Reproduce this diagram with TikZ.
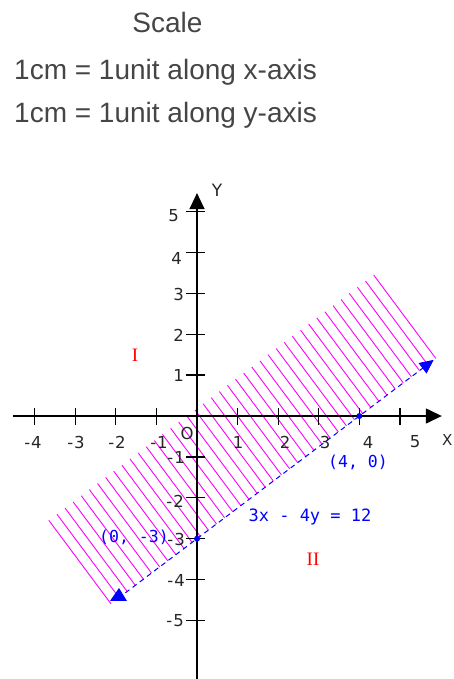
\documentclass[tikz,border=0pt]{standalone}
\usepackage{fontspec}
\setmainfont{Liberation Sans}
\newfontfamily\tickfont{DejaVu Sans}
\newfontfamily\labmono{DejaVu Sans Mono}
\newfontfamily\labserif{Liberation Serif}
\usetikzlibrary{arrows.meta}
\definecolor{txtgray}{HTML}{454545}
\definecolor{hatchcol}{HTML}{FF00FF}
\definecolor{lineblue}{HTML}{0000FF}
\definecolor{regred}{HTML}{FF0000}
\begin{document}
\begin{tikzpicture}[x=1pt,y=-1pt,
  headtext/.style={font=\fontsize{28}{28}\selectfont, text=txtgray, inner sep=0pt},
  ticklab/.style={font=\tickfont\fontsize{16.5}{16.5}\selectfont, text=black!85, inner sep=0pt},
  axisline/.style={line width=1.3pt, black},
  axisarrow/.style={axisline, -{Triangle[length=16pt,width=15pt]}},
  hatchline/.style={line width=0.9pt, hatchcol},
  eqline/.style={line width=1pt, lineblue, dash pattern=on 5pt off 4pt, -{Triangle[length=14pt,width=13pt]}},
  ptdot/.style={circle, fill=lineblue, inner sep=0pt, minimum size=6pt},
  bluelab/.style={font=\labmono\fontsize{16.5}{16.5}\selectfont, text=lineblue, inner sep=0pt},
  redlab/.style={font=\labserif\fontsize{19}{19}\selectfont, text=regred, inner sep=0pt}]
\useasboundingbox (0,0) rectangle (453,679);
% heading
\node[headtext, anchor=base] (title) at (167.5,33) {Scale};
\node[headtext, anchor=base west] (scalex) at (14,80) {1cm = 1unit along x-axis};
\node[headtext, anchor=base west] (scaley) at (14,123) {1cm = 1unit along y-axis};
% graph
\begin{scope}[shift={(197,416)}, x=40.6pt, y=40.9pt]
  \foreach \k in {0,...,40} {
    \pgfmathsetmacro\s{0.25*\k}
    \draw[hatchline] ({-2.12+0.8*\s},{-4.59+0.6*\s}) -- ++(-1.53,2.04);
  }
  \coordinate (xstart) at (-4.53,0);
  \coordinate (xend) at (6.03,0);
  \coordinate (ystart) at (0,-6.5);
  \coordinate (yend) at (0,5.45);
  \draw[axisarrow] (xstart) -- (xend);
  \draw[axisarrow] (ystart) -- (yend);
  \foreach \i in {-4,-3,-2,-1,1,2,3,4,5}
    \draw[axisline] ([yshift=8pt]\i,0) -- ([yshift=-9pt]\i,0);
  \foreach \j in {-5,-4,-3,-2,-1,1,2,3,4,5}
    \draw[axisline] ([xshift=-11pt]0,\j) -- ([xshift=8pt]0,\j);
  \coordinate (lstart) at (-1.94,-4.455);
  \coordinate (lend) at (5.83,1.3725);
  \draw[eqline] (lstart) -- (lend);
  \fill[lineblue] (-2.143,-4.523) -- (-1.724,-4.523) -- (-1.921,-4.205) -- cycle;
  \node[ptdot] (p40) at (4,0) {};
  \node[ptdot] (p03) at (0,-3) {};
\end{scope}
% x tick labels
\node[ticklab] (xl-4) at (33,442) {-\kern1pt4};
\node[ticklab] (xl-3) at (76,442) {-\kern1pt3};
\node[ticklab] (xl-2) at (117,442) {-\kern1pt2};
\node[ticklab] (xl-1) at (159,442) {-\kern1pt1};
\node[ticklab] (xl1) at (238,442) {1};
\node[ticklab] (xl2) at (285,442) {2};
\node[ticklab] (xl3) at (325,442) {3};
\node[ticklab] (xl4) at (368,442) {4};
\node[ticklab] (xl5) at (415,442) {5};
% y tick labels
\node[ticklab, anchor=east] (yl5) at (179,216) {5};
\node[ticklab, anchor=east] (yl4) at (182,258) {4};
\node[ticklab, anchor=east] (yl3) at (184,294) {3};
\node[ticklab, anchor=east] (yl2) at (184,335) {2};
\node[ticklab, anchor=east] (yl1) at (184,375) {1};
\node[ticklab, anchor=east] (yl-1) at (185,457) {-\kern1pt1};
\node[ticklab, anchor=east] (yl-2) at (184,501) {-\kern1pt2};
\node[ticklab, anchor=east] (yl-3) at (185,539) {-\kern1pt3};
\node[ticklab, anchor=east] (yl-4) at (185,580) {-\kern1pt4};
\node[ticklab, anchor=east] (yl-5) at (184,621) {-\kern1pt5};
\node[ticklab] (orig) at (187,433) {O};
\node[ticklab, font=\tickfont\fontsize{15}{15}\selectfont, anchor=east] (xlab) at (452.5,440) {X};
\node[ticklab, font=\tickfont\fontsize{17}{17}\selectfont] (ylab) at (217,190) {Y};
% labels
\node[redlab] (reg1) at (135,355) {I};
\node[redlab] (reg2) at (313,559) {II};
\node[bluelab] (lab40) at (358,462) {(4, 0)};
\node[bluelab] (lab03) at (134,537) {(0, -3)};
\node[bluelab, font=\labmono\fontsize{17}{17}\selectfont] (eqlab) at (310,516.5) {3x - 4y = 12};
\end{tikzpicture}
\end{document}
